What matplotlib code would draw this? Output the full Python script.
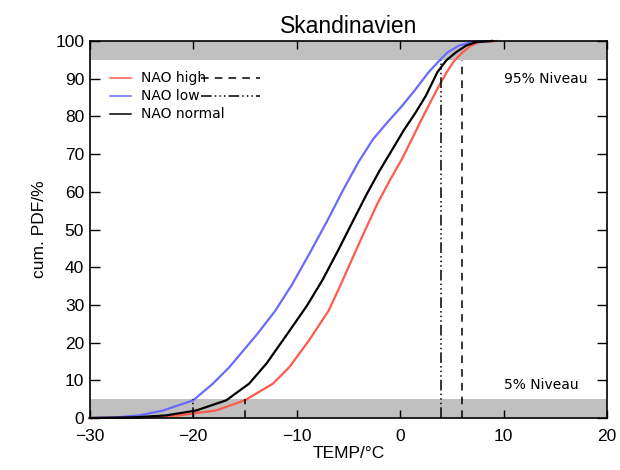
import matplotlib
matplotlib.use("Agg")
import matplotlib.pyplot as plt

# cumulative PDF curves (TEMP in degC, percent)
low_x = [-30, -27.5, -25.2, -22.9, -20.0, -18.1, -16.5, -13.8, -12.05, -10.4, -8.6, -7.0, -5.5, -4.0, -2.6,
         -1.2, 0.2, 1.5, 2.75, 3.8, 4.6, 5.7, 7.0, 8.9]
low_y = [0, 0.15, 0.7, 2.0, 4.7, 9.1, 13.5, 22.3, 28.5, 35.6, 44.4, 52.5, 60.5, 68.0, 74.0,
         78.5, 82.8, 87.2, 91.7, 94.8, 97.0, 98.8, 99.7, 100]

normal_x = [-30, -25.5, -22.6, -19.7, -16.8, -14.6, -12.9, -10.9, -9.0, -7.5, -6.0, -4.6, -3.2, -2.0, -0.8,
            0.4, 1.5, 2.5, 3.6, 4.45, 5.4, 6.4, 7.35, 8.9]
normal_y = [0, 0.2, 0.7, 2.0, 4.7, 9.1, 14.5, 22.3, 29.8, 36.6, 44.4, 52.0, 59.5, 65.5, 71.0,
            76.5, 81.0, 85.5, 91.7, 94.8, 97.0, 98.8, 99.7, 100]

high_x = [-30, -25, -21.3, -17.8, -15.0, -12.3, -10.7, -8.8, -6.9, -5.7, -4.5, -3.4, -2.2, -1.0, 0.2,
          1.2, 2.1, 2.9, 3.6, 4.5, 5.25, 6.05, 6.85, 7.7, 9.3]
high_y = [0, 0.15, 0.7, 2.0, 4.7, 9.1, 13.5, 20.6, 28.5, 35.6, 43.0, 49.7, 56.8, 63.0, 68.8,
          74.3, 79.3, 83.6, 87.3, 91.7, 94.8, 97.0, 98.8, 99.7, 100]

# 5% and 95% thresholds (low, high)
low_thresh = [-20.0, 4.0]
high_thresh = [-15.0, 6.0]

RED = "#ff5a4d"
BLUE = "#6a6aff"
GREY = "#c0c0c0"
DASH = (0, (5, 4))
DASHDOT3 = (0, (7, 2, 1, 2, 1, 2, 1, 2))

plt.rcParams["font.family"] = ["Liberation Sans", "DejaVu Sans"]

fig = plt.figure(figsize=(6.2, 4.7), dpi=100)
ax = fig.add_axes([0.1447, 0.1106, 0.8343, 0.8022])

ax.axhspan(0, 5, color=GREY, lw=0, zorder=0)
ax.axhspan(95, 100, color=GREY, lw=0, zorder=0)

ax.plot(high_x, high_y, color=RED, lw=1.6, clip_on=False)
ax.plot(low_x, low_y, color=BLUE, lw=1.6, clip_on=False)
ax.plot(normal_x, normal_y, color="black", lw=1.6, clip_on=False)

ax.vlines(low_thresh[0], 0, 5, color="black", lw=1.1, linestyles=[DASHDOT3])
ax.vlines(high_thresh[0], 0, 5, color="black", lw=1.1, linestyles=[DASH])
ax.vlines(low_thresh[1], 0, 95, color="black", lw=1.1, linestyles=[DASHDOT3])
ax.vlines(high_thresh[1], 0, 95, color="black", lw=1.1, linestyles=[DASH])

ax.set_xlim(-30, 20)
ax.set_ylim(0, 100)
ax.set_xticks([-30, -20, -10, 0, 10, 20])
ax.set_yticks(range(0, 101, 10))
ax.tick_params(axis="x", direction="in", length=6, width=1, top=True, labelsize=12.5, pad=8)
ax.tick_params(axis="y", direction="in", length=7, width=1, right=True, labelsize=12.5, pad=4)
for s in ax.spines.values():
    s.set_linewidth(1.2)

ax.set_title("Skandinavien", fontsize=16.5, pad=6)
ax.set_xlabel("TEMP/\u00b0C", fontsize=12.5, labelpad=1)
ax.set_ylabel("cum. PDF/%", fontsize=12.5, labelpad=6)

# hand-drawn legend like the original
leg_font = dict(fontsize=10, family="DejaVu Sans", va="center")
entries = [("NAO high", RED, 90.2), ("NAO low", BLUE, 85.4), ("NAO normal", "black", 80.7)]
for label, col, yy in entries:
    ax.plot([-28, -26], [yy, yy], color=col, lw=1.1)
    ax.text(-25, yy, label, **leg_font)
ax.plot([-19.2, -13.5], [90.2, 90.2], color="black", lw=1.1, linestyle=DASH)
ax.plot([-19.2, -13.5], [85.4, 85.4], color="black", lw=1.1, linestyle=DASHDOT3)

ax.text(10, 90, "95% Niveau", **leg_font)
ax.text(10, 8.7, "5% Niveau", **leg_font)

fig.savefig("out.png", dpi=100)
